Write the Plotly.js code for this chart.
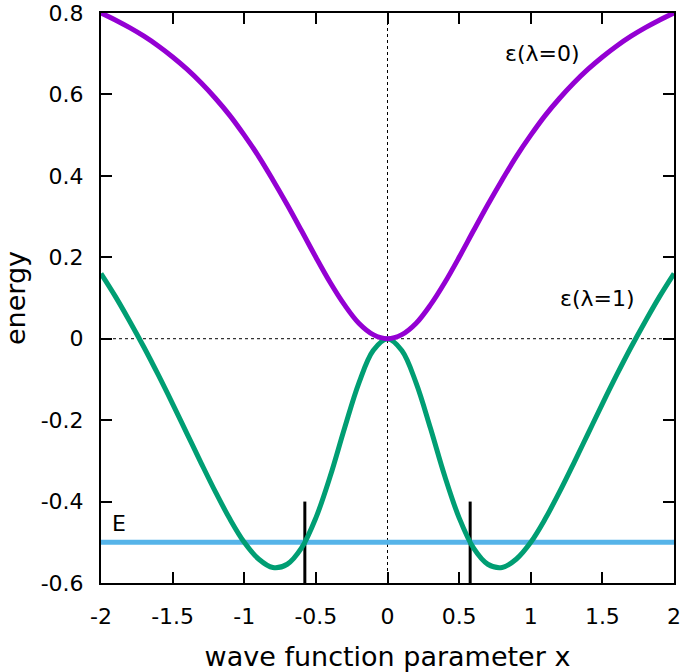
<!DOCTYPE html>
<html>
<head>
<meta charset="utf-8">
<script src="https://cdn.plot.ly/plotly-3.0.1.min.js"></script>
<style>
  html, body { margin: 0; padding: 0; background: white; }
  #plot { width: 685px; height: 672px; }
</style>
</head>
<body>
<div id="plot"></div>
<script>
// wave function parameter x
var xs = [-2.0, -1.9, -1.8, -1.7, -1.6, -1.5, -1.4, -1.3, -1.2, -1.1, -1.0,
          -0.9, -0.8, -0.7, -0.6, -0.5, -0.4, -0.3, -0.2, -0.1, 0.0,
          0.1, 0.2, 0.3, 0.4, 0.5, 0.6, 0.7, 0.8, 0.9, 1.0,
          1.1, 1.2, 1.3, 1.4, 1.5, 1.6, 1.7, 1.8, 1.9, 2.0];

// energy, lambda = 0
var eps0 = [0.800, 0.783, 0.764, 0.743, 0.719, 0.692, 0.662, 0.628, 0.590, 0.548, 0.500,
            0.448, 0.390, 0.329, 0.265, 0.200, 0.138, 0.083, 0.038, 0.010, 0.000,
            0.010, 0.038, 0.083, 0.138, 0.200, 0.265, 0.329, 0.390, 0.448, 0.500,
            0.548, 0.590, 0.628, 0.662, 0.692, 0.719, 0.743, 0.764, 0.783, 0.800];

// energy, lambda = 1
var eps1 = [0.160, 0.104, 0.043, -0.021, -0.089, -0.160, -0.233, -0.306, -0.377, -0.443, -0.500,
            -0.541, -0.562, -0.554, -0.514, -0.440, -0.338, -0.220, -0.109, -0.029, 0.000,
            -0.029, -0.109, -0.220, -0.338, -0.440, -0.514, -0.554, -0.562, -0.541, -0.500,
            -0.443, -0.377, -0.306, -0.233, -0.160, -0.089, -0.021, 0.043, 0.104, 0.160];

var energyE = -0.5;
var crossX = [-0.577, 0.577];
var crossY = [-0.6, -0.4];

var xTickVals = [-2, -1.5, -1, -0.5, 0, 0.5, 1, 1.5, 2];
var xTickText = ['-2', '-1.5', '-1', '-0.5', '0', '0.5', '1', '1.5', '2'];
var yTickVals = [-0.6, -0.4, -0.2, 0, 0.2, 0.4, 0.6, 0.8];
var yTickText = ['-0.6', '-0.4', '-0.2', '0', '0.2', '0.4', '0.6', '0.8'];

var font = 'DejaVu Sans, sans-serif';

var traces = [
  {
    x: [0, 0], y: [-0.6, 0.8], mode: 'lines',
    line: {color: 'black', width: 1, dash: '3px,3px'},
    hoverinfo: 'skip', showlegend: false
  },
  {
    x: [-2, 2], y: [0, 0], mode: 'lines',
    line: {color: 'black', width: 1, dash: '3px,3px'},
    hoverinfo: 'skip', showlegend: false
  },
  {
    x: [-2, 2], y: [energyE, energyE], mode: 'lines', name: 'E',
    line: {color: '#56b4e9', width: 5},
    cliponaxis: false, showlegend: false
  },
  {
    x: [crossX[0], crossX[0]], y: crossY, mode: 'lines',
    line: {color: 'black', width: 3}, showlegend: false
  },
  {
    x: [crossX[1], crossX[1]], y: crossY, mode: 'lines',
    line: {color: 'black', width: 3}, showlegend: false
  },
  {
    x: xs, y: eps1, mode: 'lines', name: 'ε(λ=1)',
    line: {color: '#009e73', width: 5, shape: 'spline'},
    showlegend: false
  },
  {
    x: xs, y: eps0, mode: 'lines', name: 'ε(λ=0)',
    line: {color: '#9400d3', width: 5, shape: 'spline'},
    cliponaxis: false, showlegend: false
  }
];

var layout = {
  width: 685,
  height: 672,
  margin: {l: 101, r: 11, t: 13, b: 89},
  paper_bgcolor: 'white',
  plot_bgcolor: 'white',
  font: {family: font, size: 22, color: 'black'},
  showlegend: false,
  xaxis: {
    range: [-2, 2],
    tickvals: xTickVals,
    ticktext: xTickText,
    ticks: 'inside', ticklen: 11, tickwidth: 2, tickcolor: 'black',
    showline: true, linewidth: 2, linecolor: 'black', mirror: 'ticks',
    showgrid: false, zeroline: false,
    ticklabelstandoff: 13,
    ticklabeloverflow: 'allow',
    title: {text: 'wave function parameter x', font: {size: 27}, standoff: 22}
  },
  yaxis: {
    range: [-0.6, 0.8],
    tickvals: yTickVals,
    ticktext: yTickText,
    ticks: 'inside', ticklen: 11, tickwidth: 2, tickcolor: 'black',
    showline: true, linewidth: 2, linecolor: 'black', mirror: 'ticks',
    showgrid: false, zeroline: false,
    ticklabelstandoff: 11,
    ticklabeloverflow: 'allow',
    title: {text: 'energy', font: {size: 27}, standoff: 16}
  },
  annotations: [
    {x: 1.085, y: 0.70, text: 'ε(λ=0)', showarrow: false, font: {size: 22}},
    {x: 1.4625, y: 0.098, text: 'ε(λ=1)', showarrow: false, font: {size: 22}},
    {x: -1.871, y: -0.454, text: 'E', showarrow: false, font: {size: 22}}
  ]
};

Plotly.newPlot('plot', traces, layout, {displayModeBar: false, staticPlot: true});
</script>
</body>
</html>
